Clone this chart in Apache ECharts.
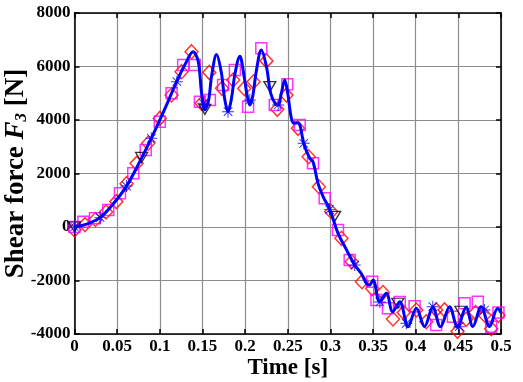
<!DOCTYPE html>
<html><head><meta charset="utf-8">
<script src="https://cdn.jsdelivr.net/npm/echarts@6/dist/echarts.min.js"></script>
<style>html,body{margin:0;padding:0;background:#fff}#c{width:523px;height:382px}</style>
</head><body><div id="c"></div>
<script>
// Blue solid curve (key points)
const blueT = [0,0.015,0.03,0.045,0.061,0.075,0.09,0.105,0.12,0.13,0.139,0.145,0.149,0.1528,0.157,0.161,0.1665,0.172,0.176,0.18,0.184,0.188,0.1938,0.199,0.2025,0.2055,0.209,0.213,0.219,0.225,0.23,0.2355,0.2387,0.2425,0.2465,0.25,0.254,0.257,0.2605,0.264,0.2687,0.2757,0.2796,0.2855,0.292,0.299,0.309,0.318,0.3285,0.336,0.342,0.3458,0.35,0.3577,0.3656,0.373,0.3813,0.391,0.4007,0.4104,0.42,0.429,0.4397,0.449,0.459,0.467,0.4768,0.4865,0.496,0.5];
const blueF = [0,120,350,850,1530,2350,3316,4350,5450,6100,6550,6200,5000,4380,4700,5700,6450,5800,4800,4310,4800,5700,6380,5600,4900,4560,4900,5800,6620,6000,5000,4600,4560,5000,5500,5000,4100,3880,3900,3830,3130,2570,2440,1630,1100,680,-240,-800,-1420,-1730,-2100,-2170,-1980,-2790,-2480,-3170,-2790,-3730,-3040,-3720,-3000,-3730,-2980,-3750,-3000,-3720,-2980,-3720,-3050,-3200];
// Blue asterisk markers
const starT = [0,0.03,0.061,0.09,0.12,0.151,0.18,0.2055,0.2387,0.2687,0.299,0.3285,0.358,0.389,0.42,0.451,0.4807];
const starF = [0,350,1530,3316,5433,4624,4310,4748,4560,3129,650,-1420,-2800,-3600,-2979,-3727,-3103];
// Red diamonds
const diaT = [0,0.0123,0.0246,0.037,0.049,0.061,0.0728,0.0864,0.1,0.1138,0.1255,0.1372,0.149,0.158,0.173,0.186,0.199,0.21,0.225,0.2377,0.2485,0.262,0.2745,0.2865,0.301,0.3129,0.325,0.337,0.349,0.3616,0.3734,0.386,0.4007,0.4124,0.424,0.4338,0.449,0.4592,0.47,0.4807,0.4885,0.497];
const diaF = [-110,90,280,560,950,1620,2380,3130,4060,4935,5806,6553,4624,5780,5185,5495,5180,5430,6210,4400,4930,3690,2628,1507,572,-423,-1300,-2044,-2300,-2450,-3440,-3200,-3103,-3540,-3100,-3100,-3900,-3450,-3200,-3290,-3800,-3300];
// Magenta squares
const sqT = [0,0.0103,0.024,0.0396,0.0533,0.0689,0.0835,0.1,0.1138,0.1274,0.141,0.147,0.1587,0.1742,0.188,0.2035,0.219,0.2348,0.2495,0.264,0.2796,0.2933,0.3089,0.3226,0.349,0.354,0.3675,0.3813,0.3987,0.424,0.4436,0.4573,0.4728,0.4885,0.497];
const sqF = [0,198,325,635,1260,2007,2880,3937,4998,6056,6056,4685,4748,5309,5869,4497,6680,4561,5340,3813,2381,1073,-112,-1234,-2050,-2730,-3040,-2800,-2960,-3664,-3353,-2852,-2792,-3727,-3200];
// Black down-triangles
const triT = [0,0.0787,0.1528,0.229,0.305,0.379,0.453];
const triF = [0,2600,4400,5250,400,-2850,-3150];
// Axis ticks
const xTicks = {min:0, max:0.5, step:0.05};
const yTicks = {min:-4000, max:8000, step:2000};

const zip = (a,b) => a.map((v,i)=>[v,b[i]]);
const FONT = 'Liberation Serif';
const star = 'path://M-0.08,-1L0.08,-1L0.08,1L-0.08,1Z M-1,-0.08L1,-0.08L1,0.08L-1,0.08Z M-0.65,-0.764L0.764,0.65L0.65,0.764L-0.764,-0.65Z M0.764,-0.65L-0.65,0.764L-0.764,0.65L0.65,-0.764Z';

const grid = {left:74.5, right:22, top:13, bottom:48, containLabel:false, outerBoundsMode:'none'};
const lab = {fontFamily:FONT, fontWeight:'bold', fontSize:17, color:'#000'};
const chart = echarts.init(document.getElementById('c'), null, {renderer:'canvas'});
chart.setOption({
  animation:false,
  backgroundColor:'#fff',
  grid: grid,
  xAxis: [{
    type:'value', min:xTicks.min, max:xTicks.max, interval:xTicks.step,
    axisLine:{onZero:false, lineStyle:{color:'#000', width:1.5}},
    axisTick:{inside:true, length:5, lineStyle:{color:'#000', width:1.5}},
    splitLine:{show:true, lineStyle:{color:'#8c8c8c', width:1.2}},
    axisLabel:Object.assign({margin:4, formatter:v=>String(+v.toFixed(2))}, lab),
    name:'Time [s]', nameLocation:'middle', nameGap:23, nameMoveOverlap:false,
    nameTextStyle:{fontFamily:FONT, fontWeight:'bold', fontSize:23, color:'#000'}
  },{
    type:'value', position:'top', min:xTicks.min, max:xTicks.max, interval:xTicks.step,
    axisLine:{show:true, onZero:false, lineStyle:{color:'#000', width:1.5}},
    axisTick:{show:true, inside:true, length:5, lineStyle:{color:'#000', width:1.5}},
    axisLabel:{show:false}, splitLine:{show:false}
  }],
  yAxis: [{
    type:'value', min:yTicks.min, max:yTicks.max, interval:yTicks.step,
    axisLine:{show:true, onZero:false, lineStyle:{color:'#000', width:1.5}},
    axisTick:{show:true, inside:true, length:5, lineStyle:{color:'#000', width:1.5}},
    splitLine:{show:true, lineStyle:{color:'#8c8c8c', width:1.2}},
    axisLabel:Object.assign({margin:4, formatter:v=>String(v)}, lab),
    name:'{a|Shear force }{i|F}{s|3}{a| [N]}', nameLocation:'middle', nameGap:43, nameMoveOverlap:false,
    nameTextStyle:{rich:{
      a:{fontFamily:FONT, fontWeight:'bold', fontSize:27, color:'#000', lineHeight:30},
      i:{fontFamily:FONT, fontWeight:'bold', fontStyle:'italic', fontSize:27, color:'#000', lineHeight:30},
      s:{fontFamily:FONT, fontWeight:'bold', fontStyle:'italic', fontSize:17, color:'#000', lineHeight:30, padding:[11,0,0,0]}
    }}
  },{
    type:'value', position:'right', min:yTicks.min, max:yTicks.max, interval:yTicks.step,
    axisLine:{show:true, onZero:false, lineStyle:{color:'#000', width:1.5}},
    axisTick:{show:true, inside:true, length:5, lineStyle:{color:'#000', width:1.5}},
    axisLabel:{show:false}, splitLine:{show:false}
  }],
  series: [
    {type:'scatter', data:zip(diaT,diaF), symbol:'diamond', symbolSize:[13,14],
     itemStyle:{color:'rgba(0,0,0,0)', borderColor:'#ff0000', borderWidth:1.5}, z:2},
    {type:'scatter', data:zip(sqT,sqF), symbol:'rect', symbolSize:11,
     itemStyle:{color:'rgba(0,0,0,0)', borderColor:'#ff00ff', borderWidth:1.5}, z:3},
    {type:'scatter', data:zip(triT,triF), symbol:'triangle', symbolRotate:180, symbolSize:[12,10],
     itemStyle:{color:'rgba(0,0,0,0)', borderColor:'#000', borderWidth:1.3}, z:4},
    {type:'line', data:zip(blueT,blueF), smooth:0.35, showSymbol:false, symbol:'none',
     lineStyle:{color:'#0000ff', width:3}, z:5},
    {type:'scatter', data:zip(starT,starF), symbol:star, symbolSize:12,
     itemStyle:{color:'#0000ff'}, z:6}
  ]
});
</script></body></html>
